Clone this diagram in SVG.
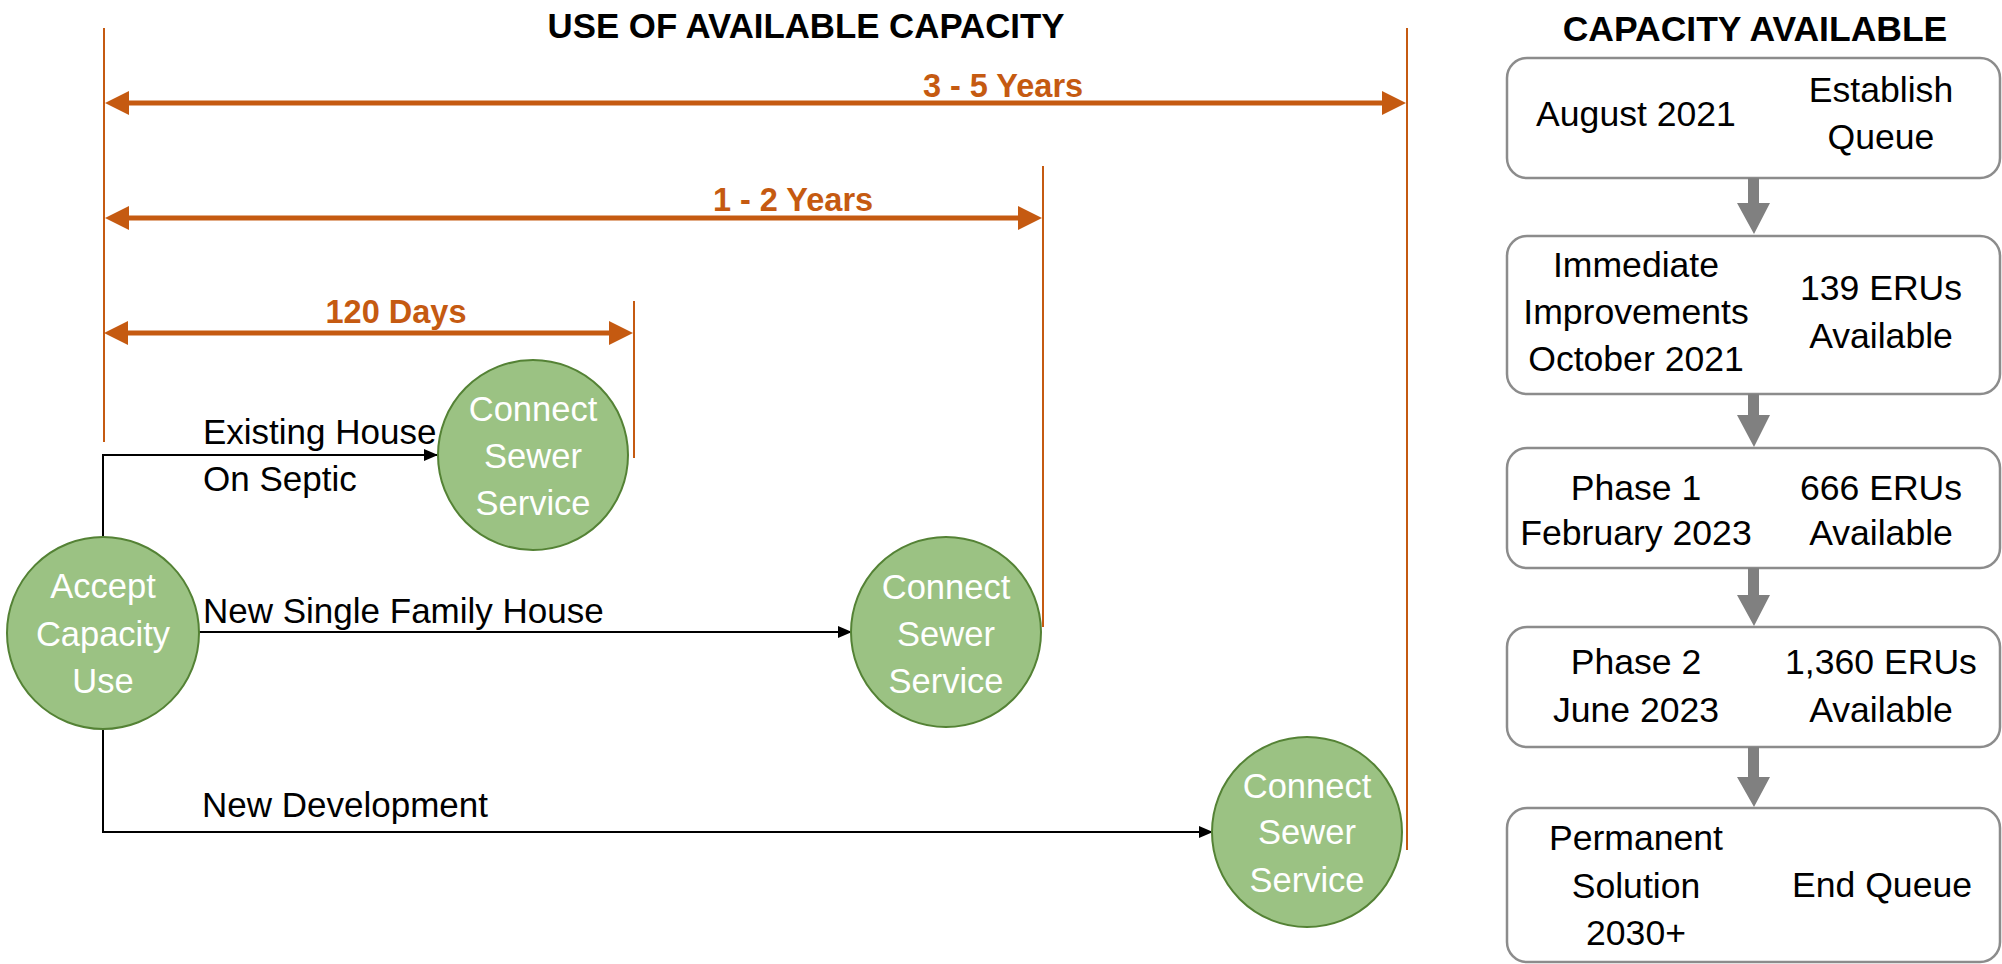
<svg xmlns="http://www.w3.org/2000/svg" width="2002" height="964" viewBox="0 0 2002 964">
<defs>
<style>
text{font-family:"Liberation Sans",Arial,sans-serif;}
.title{font-size:34.8px;font-weight:bold;fill:#000;text-anchor:middle;}
.dim{font-size:32.5px;font-weight:bold;fill:#C55A11;text-anchor:middle;}
.lbl{font-size:35px;fill:#000;}
.ct{font-size:34.5px;fill:#fff;text-anchor:middle;}
.bt{font-size:35.6px;fill:#000;text-anchor:middle;}
.circ{fill:#9BC283;stroke:#548235;stroke-width:2;}
.box{fill:#fff;stroke:#8c8c8c;stroke-width:2.5;}
.vl{stroke:#C55A11;stroke-width:2;fill:none;}
.dl{stroke:#C55A11;stroke-width:5;fill:none;}
.oh{fill:#C55A11;}
.con{stroke:#000;stroke-width:2;fill:none;}
.gar{fill:#808080;}
</style>
<marker id="ah" markerWidth="14" markerHeight="12" refX="13" refY="6" orient="auto" markerUnits="userSpaceOnUse">
<path d="M0,0 L14,6 L0,12 Z" fill="#000"/>
</marker>
</defs>
<rect width="2002" height="964" fill="#fff"/>

<text class="title" x="806" y="38">USE OF AVAILABLE CAPACITY</text>
<text class="title" x="1755" y="41" style="font-size:35.5px">CAPACITY AVAILABLE</text>

<g id="dimensions">
<line class="vl" x1="104" y1="28" x2="104" y2="442"/>
<line class="vl" x1="1407" y1="28" x2="1407" y2="850"/>
<line class="vl" x1="1043" y1="166" x2="1043" y2="627"/>
<line class="vl" x1="634" y1="301" x2="634" y2="458"/>
<line class="dl" x1="125" y1="103" x2="1385" y2="103"/>
<path class="oh" d="M105,103 L129,91 L129,115 Z"/>
<path class="oh" d="M1406,103 L1382,91 L1382,115 Z"/>
<text class="dim" x="1003" y="97">3 - 5 Years</text>
<line class="dl" x1="125" y1="218" x2="1022" y2="218"/>
<path class="oh" d="M105,218 L129,206 L129,230 Z"/>
<path class="oh" d="M1042,218 L1018,206 L1018,230 Z"/>
<text class="dim" x="793" y="211">1 - 2 Years</text>
<line class="dl" x1="125" y1="333" x2="612" y2="333"/>
<path class="oh" d="M104,333 L128,321 L128,345 Z"/>
<path class="oh" d="M633,333 L609,321 L609,345 Z"/>
<text class="dim" x="396" y="323">120 Days</text>
</g>

<g id="connectors">
<path class="con" d="M103,537 L103,455 L437,455" marker-end="url(#ah)"/>
<path class="con" d="M199,632 L851,632" marker-end="url(#ah)"/>
<path class="con" d="M103,729 L103,832 L1212,832" marker-end="url(#ah)"/>
<text class="lbl" x="203" y="444">Existing House</text>
<text class="lbl" x="203" y="491">On Septic</text>
<text class="lbl" x="203" y="623">New Single Family House</text>
<text class="lbl" x="202" y="817">New Development</text>
</g>

<g id="accept">
<circle class="circ" cx="103" cy="633" r="96"/>
<text class="ct" x="103" y="598">Accept</text>
<text class="ct" x="103" y="646">Capacity</text>
<text class="ct" x="103" y="693">Use</text>
</g>
<g id="connect1">
<circle class="circ" cx="533" cy="455" r="95"/>
<text class="ct" x="533" y="421">Connect</text>
<text class="ct" x="533" y="468">Sewer</text>
<text class="ct" x="533" y="515">Service</text>
</g>
<g id="connect2">
<circle class="circ" cx="946" cy="632" r="95"/>
<text class="ct" x="946" y="599">Connect</text>
<text class="ct" x="946" y="646">Sewer</text>
<text class="ct" x="946" y="693">Service</text>
</g>
<g id="connect3">
<circle class="circ" cx="1307" cy="832" r="95"/>
<text class="ct" x="1307" y="798">Connect</text>
<text class="ct" x="1307" y="844">Sewer</text>
<text class="ct" x="1307" y="892">Service</text>
</g>

<g id="box1">
<rect class="box" x="1507" y="58" width="493" height="120" rx="20"/>
<text class="bt" x="1636" y="126">August 2021</text>
<text class="bt" x="1881" y="102">Establish</text>
<text class="bt" x="1881" y="149">Queue</text>
</g>
<g id="box2">
<rect class="box" x="1507" y="236" width="493" height="158" rx="20"/>
<text class="bt" x="1636" y="277">Immediate</text>
<text class="bt" x="1636" y="324">Improvements</text>
<text class="bt" x="1636" y="371">October 2021</text>
<text class="bt" x="1881" y="300">139 ERUs</text>
<text class="bt" x="1881" y="348">Available</text>
</g>
<g id="box3">
<rect class="box" x="1507" y="448" width="493" height="120" rx="20"/>
<text class="bt" x="1636" y="500">Phase 1</text>
<text class="bt" x="1636" y="545">February 2023</text>
<text class="bt" x="1881" y="500">666 ERUs</text>
<text class="bt" x="1881" y="545">Available</text>
</g>
<g id="box4">
<rect class="box" x="1507" y="627" width="493" height="120" rx="20"/>
<text class="bt" x="1636" y="674">Phase 2</text>
<text class="bt" x="1636" y="722">June 2023</text>
<text class="bt" x="1881" y="674">1,360 ERUs</text>
<text class="bt" x="1881" y="722">Available</text>
</g>
<g id="box5">
<rect class="box" x="1507" y="808" width="493" height="154" rx="20"/>
<text class="bt" x="1636" y="850">Permanent</text>
<text class="bt" x="1636" y="898">Solution</text>
<text class="bt" x="1636" y="945">2030+</text>
<text class="bt" x="1882" y="897">End Queue</text>
</g>

<g id="flow-arrows">
<path class="gar" d="M1748,178 L1759,178 L1759,203 L1770,203 L1754,234 L1737,203 L1748,203 Z"/>
<path class="gar" d="M1748,394 L1759,394 L1759,415 L1770,415 L1754,447 L1737,415 L1748,415 Z"/>
<path class="gar" d="M1748,568 L1759,568 L1759,595 L1770,595 L1754,626 L1737,595 L1748,595 Z"/>
<path class="gar" d="M1748,747 L1759,747 L1759,777 L1770,777 L1754,807 L1737,777 L1748,777 Z"/>
</g>
</svg>
